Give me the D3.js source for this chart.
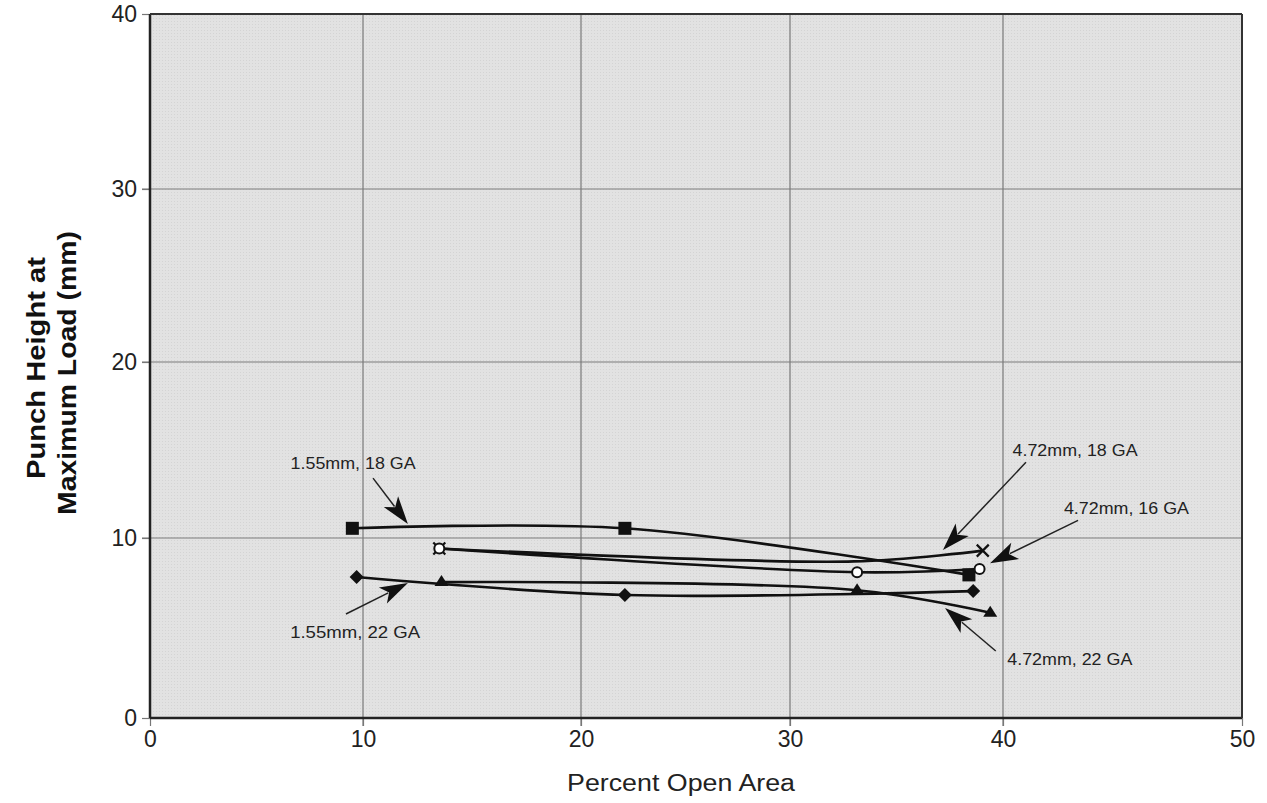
<!DOCTYPE html>
<html><head><meta charset="utf-8">
<script src="https://cdn.jsdelivr.net/npm/d3@7"></script>
<style>body{margin:0;background:#fff;} svg{display:block;}</style>
</head><body>
<svg id="c" width="1267" height="803"></svg>
<script>
// ---- data ----
const xTicks = [0, 10, 20, 30, 40, 50];
const yTicks = [0, 10, 20, 30, 40];
const sq155_18 = [[9.5, 10.55], [22.1, 10.55], [38.4, 7.95]];
const di155_22 = [[9.7, 7.83], [22.1, 6.83], [38.6, 7.05]];
const ci472_16 = [[13.5, 9.42], [33.15, 8.1], [38.9, 8.28]];
const xx472_18 = [[13.5, 9.42], [33.0, 8.7], [39.05, 9.3]];
const tr472_22 = [[13.6, 7.55], [33.15, 7.1], [39.4, 5.85]];
const labels = ["1.55mm, 18 GA", "1.55mm,  22 GA", "4.72mm, 18 GA", "4.72mm, 16 GA", "4.72mm, 22 GA"];
// annotation: [text x, text y, arrow from (x,y), arrow tip (x,y)] in data units
const notes = [
  [6.6, 13.92, 10.46, 13.4, 12.06, 10.8],
  [6.58, 4.45, 9.2, 5.78, 12.06, 7.5],
  [40.4, 14.66, 40.96, 14.3, 37.18, 9.33],
  [42.55, 11.36, 43.14, 11.0, 39.39, 8.6],
  [40.18, 2.94, 39.66, 3.72, 37.28, 6.11]
];

const FONT = "Liberation Sans, Arial, sans-serif";
const svg = d3.select("#c");
const x = d3.scaleLinear().domain(xTicks).range([150, 363, 581, 790, 1003, 1242]);
const y = d3.scaleLinear().domain(yTicks).range([718, 538, 362, 189, 14]);

// plot background
const defs = svg.append("defs");
const pat = defs.append("pattern").attr("id", "dots").attr("width", 3).attr("height", 3).attr("patternUnits", "userSpaceOnUse");
pat.append("rect").attr("width", 3).attr("height", 3).attr("fill", "#e2e2e2");
pat.append("rect").attr("width", 1).attr("height", 1).attr("fill", "#d4d4d4");
svg.append("rect").attr("x", x(0)).attr("y", y(40)).attr("width", x(50) - x(0)).attr("height", y(0) - y(40)).attr("fill", "url(#dots)");

// gridlines
const g = svg.append("g");
g.selectAll(".gx").data(xTicks.slice(1, -1)).join("line")
  .attr("x1", d => x(d)).attr("x2", d => x(d)).attr("y1", y(40)).attr("y2", y(0) + 8)
  .attr("stroke", "#7a7a7a").attr("stroke-width", 1.2);
g.selectAll(".gy").data(yTicks.slice(1, -1)).join("line")
  .attr("x1", x(0) - 8).attr("x2", x(50)).attr("y1", d => y(d)).attr("y2", d => y(d))
  .attr("stroke", "#7a7a7a").attr("stroke-width", 1.2);

// axes
const xAxis = d3.axisBottom(x).tickValues(xTicks).tickSize(8).tickPadding(5);
const yAxis = d3.axisLeft(y).tickValues(yTicks).tickSize(8).tickPadding(5);
const ax = svg.append("g").attr("transform", `translate(0,${y(0)})`).call(xAxis);
const ay = svg.append("g").attr("transform", `translate(${x(0)},0)`).call(yAxis);
[ax, ay].forEach(a => {
  a.select(".domain").remove();
  a.selectAll("line").attr("stroke", "#777").attr("stroke-width", 1.2);
  a.selectAll("text").attr("font-family", FONT).attr("font-size", 23).attr("fill", "#222");
});
// frame
svg.append("line").attr("x1", x(0)).attr("x2", x(50)).attr("y1", y(0)).attr("y2", y(0)).attr("stroke", "#222").attr("stroke-width", 2.5);
svg.append("line").attr("x1", x(0)).attr("x2", x(0)).attr("y1", y(40)).attr("y2", y(0)).attr("stroke", "#222").attr("stroke-width", 2.5);
svg.append("line").attr("x1", x(0)).attr("x2", x(50)).attr("y1", y(40)).attr("y2", y(40)).attr("stroke", "#333").attr("stroke-width", 2);
svg.append("line").attr("x1", x(50)).attr("x2", x(50)).attr("y1", y(40)).attr("y2", y(0)).attr("stroke", "#333").attr("stroke-width", 2);

// axis titles
svg.append("text").attr("x", 567).attr("y", 791)
  .attr("textLength", 228).attr("lengthAdjust", "spacingAndGlyphs")
  .attr("font-family", FONT).attr("font-size", 23).attr("fill", "#222").text("Percent Open Area");
const yt = svg.append("text").attr("transform", "translate(0,0) rotate(-90)")
  .attr("font-family", FONT).attr("font-size", 25).attr("font-weight", "bold").attr("fill", "#111");
yt.append("tspan").attr("x", -479).attr("y", 45).attr("textLength", 222).attr("lengthAdjust", "spacingAndGlyphs").text("Punch Height at");
yt.append("tspan").attr("x", -515).attr("y", 76).attr("textLength", 284).attr("lengthAdjust", "spacingAndGlyphs").text("Maximum Load (mm)");

// series lines
const line = d3.line().x(d => x(d[0])).y(d => y(d[1])).curve(d3.curveCatmullRom.alpha(0.5));
const all = [sq155_18, di155_22, ci472_16, xx472_18, tr472_22];
svg.append("g").selectAll("path").data(all).join("path")
  .attr("d", line).attr("fill", "none").attr("stroke", "#111").attr("stroke-width", 2.6);

// markers
const mk = svg.append("g");
mk.selectAll(".sq").data(sq155_18).join("rect")
  .attr("x", d => x(d[0]) - 6.5).attr("y", d => y(d[1]) - 6.5).attr("width", 13).attr("height", 13).attr("fill", "#111");
mk.selectAll(".di").data(di155_22).join("path")
  .attr("d", d => `M${x(d[0])},${y(d[1]) - 7}l7,7l-7,7l-7,-7z`).attr("fill", "#111");
mk.selectAll(".tr").data(tr472_22).join("path")
  .attr("d", d => `M${x(d[0])},${y(d[1]) - 7}l7,11h-14z`).attr("fill", "#111");
mk.selectAll(".xx").data([xx472_18[0], xx472_18[xx472_18.length - 1]]).join("path")
  .attr("d", d => `M${x(d[0]) - 6},${y(d[1]) - 6}l12,12M${x(d[0]) + 6},${y(d[1]) - 6}l-12,12`)
  .attr("stroke", "#111").attr("stroke-width", 2.2);
mk.selectAll(".ci").data(ci472_16).join("circle")
  .attr("cx", d => x(d[0])).attr("cy", d => y(d[1])).attr("r", 5).attr("fill", "#fff").attr("stroke", "#111").attr("stroke-width", 2);

// annotations
const an = svg.append("g");
notes.forEach((n, i) => {
  const [tx, ty, x1, y1, x2, y2] = n;
  an.append("text").attr("x", x(tx)).attr("y", y(ty)).attr("font-family", FONT)
    .attr("font-size", 16).attr("fill", "#222")
    .attr("textLength", i === 1 ? 130 : 125).attr("lengthAdjust", "spacingAndGlyphs").text(labels[i]);
  const X1 = x(x1), Y1 = y(y1), X2 = x(x2), Y2 = y(y2);
  const ang = Math.atan2(Y2 - Y1, X2 - X1);
  const L = 28, W = 9;
  const bx = X2 - L * Math.cos(ang), by = Y2 - L * Math.sin(ang);
  an.append("line").attr("x1", X1).attr("y1", Y1).attr("x2", bx + 6 * Math.cos(ang)).attr("y2", by + 6 * Math.sin(ang)).attr("stroke", "#222").attr("stroke-width", 1.5);
  const px = -Math.sin(ang) * W, py = Math.cos(ang) * W;
  an.append("path").attr("d", `M${X2},${Y2}L${bx + px},${by + py}L${bx + 0.25 * L * Math.cos(ang)},${by + 0.25 * L * Math.sin(ang)}L${bx - px},${by - py}Z`).attr("fill", "#111");
});
</script>
</body></html>
